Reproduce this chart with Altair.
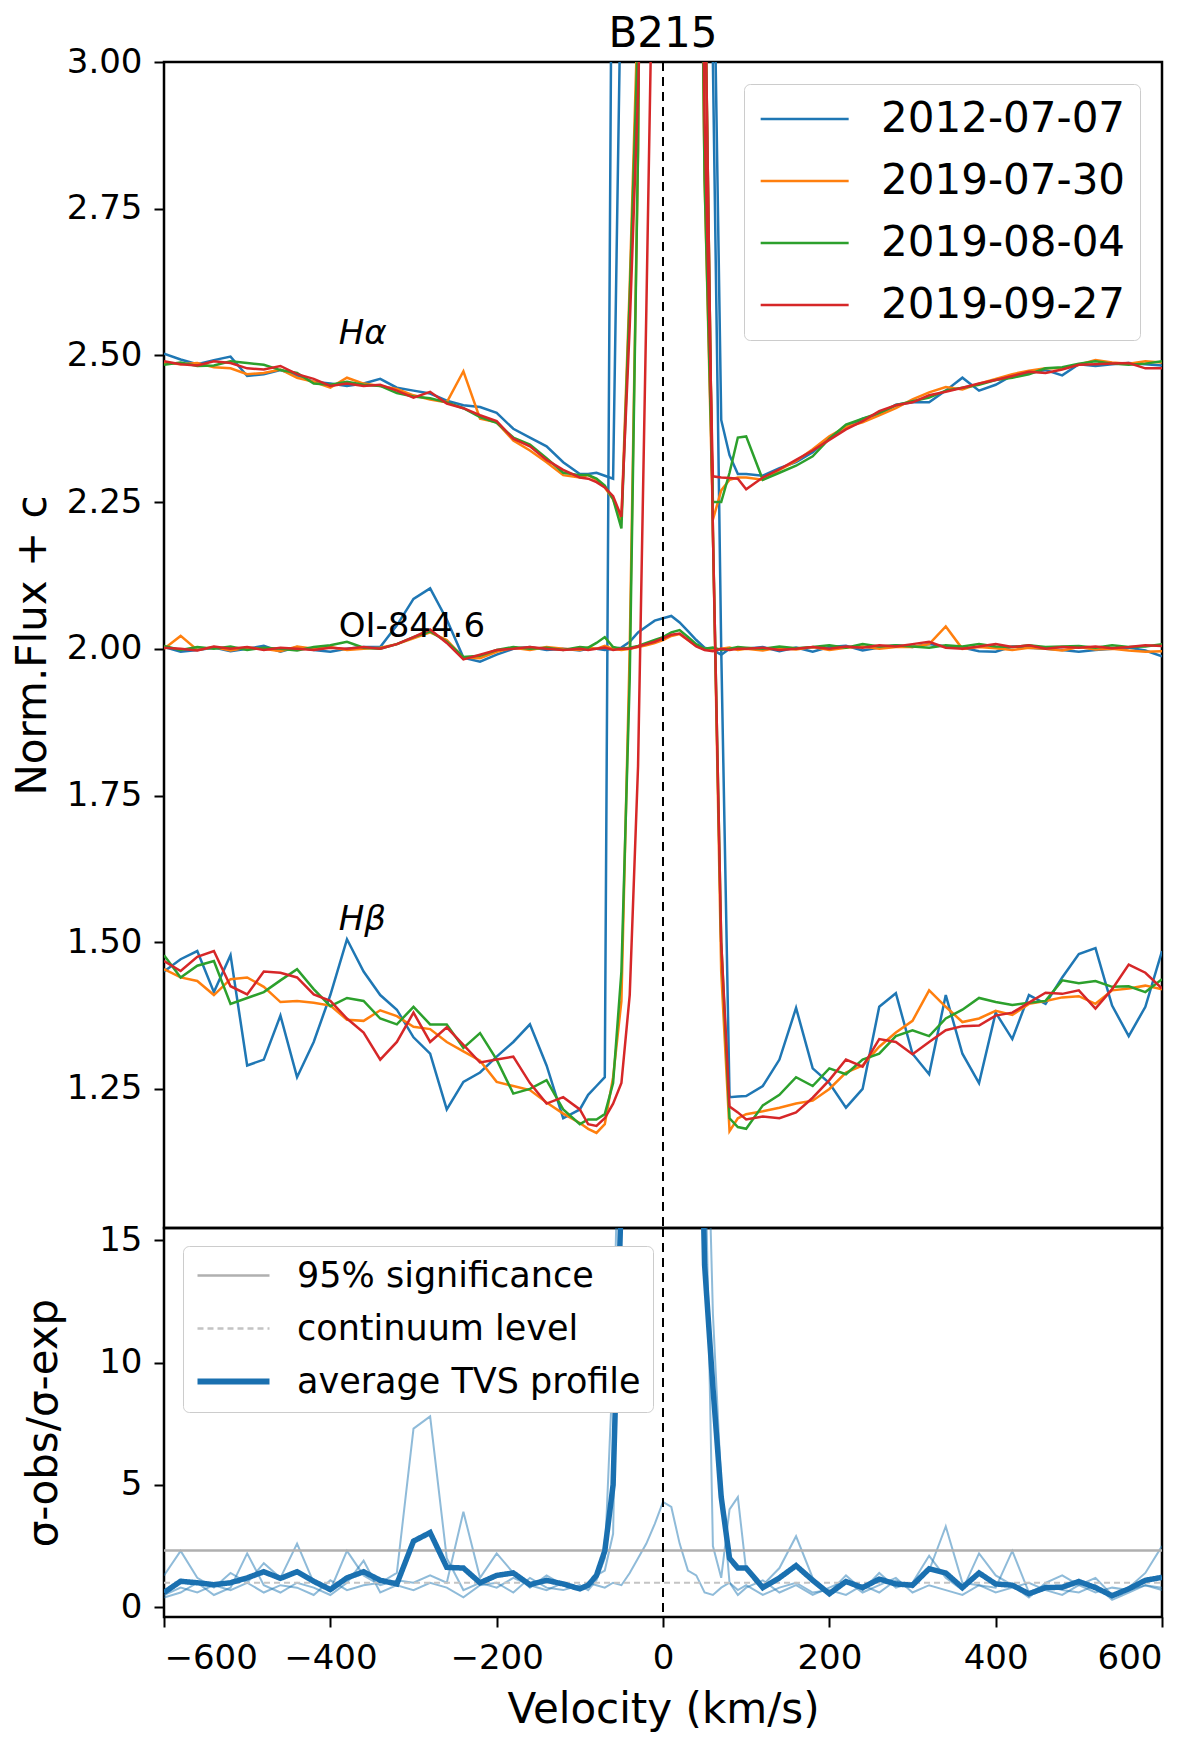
import altair as alt
import pandas as pd

# ---------------- data ----------------
vel = [-600, -580, -560, -540, -520, -500, -480, -460, -440, -420, -400, -380, -360,
       -340, -320, -300, -280, -260, -240, -220, -200, -180, -160, -140, -120, -100,
       -90, -80, -70, -60, -50, -40, -30, -20, -10, 0, 10, 20, 30, 40, 50, 60, 70, 80, 90,
       100, 120, 140, 160, 180, 200, 220, 240, 260, 280, 300, 320, 340, 360, 380,
       400, 420, 440, 460, 480, 500, 520, 540, 560, 580, 600]

dates = ["2012-07-07", "2019-07-30", "2019-08-04", "2019-09-27"]
date_colors = ["#1f77b4", "#ff7f0e", "#2ca02c", "#d62728"]

# H-alpha (offset +1.5)
ha_2012 = [2.503, 2.493, 2.485, 2.492, 2.498, 2.465, 2.468, 2.475, 2.466, 2.455, 2.452, 2.448, 2.452,
           2.460, 2.445, 2.440, 2.435, 2.423, 2.415, 2.412, 2.402, 2.375, 2.360, 2.345, 2.318, 2.298,
           2.298, 2.300, 2.295, 2.290, 3.2, 4.5, 4.5, 4.5, 4.5, 4.5, 4.5, 4.5, 4.5, 4.5, 3.8, 3.3, 2.39, 2.33, 2.298,
           2.298, 2.295, 2.308, 2.318, 2.335, 2.360, 2.378, 2.392, 2.400, 2.416, 2.420, 2.420, 2.440,
           2.462, 2.440, 2.450, 2.466, 2.470, 2.475, 2.466, 2.485, 2.482, 2.485, 2.487, 2.485, 2.483]
ha_2019a = [2.488, 2.485, 2.487, 2.480, 2.478, 2.468, 2.470, 2.476, 2.462, 2.455, 2.445, 2.462, 2.452,
            2.448, 2.443, 2.432, 2.425, 2.420, 2.473, 2.392, 2.386, 2.355, 2.338, 2.318, 2.296, 2.292,
            2.296, 2.288, 2.275, 2.255, 2.220, 2.62, 3.1, 4.5, 4.5, 4.5, 4.5, 4.5, 4.5, 4.0, 2.8, 2.22, 2.27, 2.288, 2.292,
            2.292, 2.288, 2.305, 2.320, 2.340, 2.362, 2.378, 2.386, 2.398, 2.410, 2.425, 2.437, 2.446,
            2.442, 2.452, 2.460, 2.468, 2.474, 2.478, 2.478, 2.484, 2.492, 2.488, 2.486, 2.490, 2.488]
ha_2019b = [2.484, 2.488, 2.482, 2.483, 2.490, 2.487, 2.484, 2.475, 2.470, 2.452, 2.450, 2.455, 2.450,
            2.448, 2.436, 2.430, 2.427, 2.420, 2.410, 2.395, 2.385, 2.360, 2.348, 2.325, 2.300, 2.296,
            2.296, 2.290, 2.278, 2.255, 2.205, 2.6, 3.05, 4.5, 4.5, 4.5, 4.5, 4.5, 4.5, 4.0, 2.8, 2.25, 2.25, 2.30, 2.36,
            2.362, 2.288, 2.300, 2.312, 2.328, 2.358, 2.382, 2.392, 2.402, 2.415, 2.422, 2.428, 2.440,
            2.445, 2.450, 2.458, 2.462, 2.468, 2.478, 2.480, 2.486, 2.490, 2.486, 2.484, 2.486, 2.490]
ha_2019c = [2.490, 2.485, 2.483, 2.490, 2.487, 2.478, 2.476, 2.482, 2.468, 2.460, 2.448, 2.452, 2.448,
            2.450, 2.440, 2.428, 2.438, 2.418, 2.410, 2.398, 2.388, 2.358, 2.345, 2.322, 2.305, 2.292,
            2.290, 2.284, 2.275, 2.260, 2.225, 2.55, 2.95, 3.5, 4.5, 4.5, 4.5, 4.5, 4.5, 4.0, 2.9, 2.294, 2.292, 2.291, 2.290,
            2.272, 2.292, 2.306, 2.322, 2.338, 2.356, 2.374, 2.388, 2.405, 2.415, 2.420, 2.432, 2.438,
            2.445, 2.452, 2.458, 2.465, 2.472, 2.470, 2.476, 2.484, 2.485, 2.486, 2.487, 2.478, 2.478]

# OI 844.6 (offset +1.0)
oi_2012 = [2.003, 1.995, 1.998, 2.002, 1.996, 2.000, 2.005, 1.995, 2.003, 1.998, 1.995, 2.000, 2.003,
           2.003, 2.040, 2.085, 2.103, 2.050, 1.985, 1.978, 1.990, 2.000, 2.003, 1.998, 2.000, 1.997,
           2.000, 2.000, 1.998, 2.000, 2.002, 2.012, 2.028, 2.038, 2.048, 2.052, 2.056, 2.045, 2.030, 2.015,
           2.002, 1.998, 1.990, 2.000, 2.000,
           2.000, 2.003, 1.996, 2.002, 1.995, 2.003, 2.005, 1.997, 2.002, 2.006, 2.003, 2.008, 2.004,
           2.002, 1.996, 1.995, 2.004, 2.002, 2.000, 1.998, 1.995, 1.998, 2.000, 2.002, 1.997, 1.987]
oi_2019a = [2.000, 2.022, 1.998, 2.003, 1.997, 2.002, 2.000, 1.996, 2.004, 2.000, 2.003, 1.998, 2.000,
            2.002, 2.008, 2.018, 2.028, 2.015, 1.985, 1.984, 1.995, 2.002, 1.998, 2.003, 2.000, 1.998,
            2.002, 2.000, 2.005, 2.000, 1.998, 2.000, 2.003, 2.006, 2.010, 2.015, 2.022, 2.025, 2.015, 2.005,
            2.000, 1.998, 2.000, 2.002, 1.998,
            2.000, 1.997, 2.002, 1.999, 2.003, 1.998, 2.002, 2.004, 2.000, 2.003, 2.003, 2.008, 2.038,
            2.000, 2.003, 2.001, 1.998, 2.002, 2.000, 1.997, 2.003, 1.999, 2.000, 1.997, 1.995, 1.996]
oi_2019b = [2.005, 1.998, 2.003, 2.000, 2.004, 1.998, 2.002, 2.000, 1.997, 2.003, 2.006, 2.012, 2.002,
            2.000, 2.008, 2.020, 2.030, 2.012, 1.986, 1.988, 1.998, 2.003, 2.000, 2.002, 1.998, 2.003,
            2.002, 2.010, 2.020, 2.003, 2.000, 2.002, 2.005, 2.010, 2.015, 2.020, 2.028, 2.032, 2.020, 2.008,
            2.000, 2.002, 1.998, 2.000, 2.003,
            2.002, 2.000, 2.004, 2.001, 2.003, 2.006, 2.002, 2.008, 2.004, 2.006, 2.004, 2.002, 2.006,
            2.004, 2.008, 2.004, 2.003, 2.006, 2.003, 2.004, 2.005, 2.002, 2.006, 2.003, 2.004, 2.008]
oi_2019c = [2.002, 2.000, 1.997, 2.004, 2.000, 2.003, 1.998, 2.002, 2.000, 1.998, 2.002, 2.000, 2.003,
            2.000, 2.008, 2.020, 2.033, 2.010, 1.982, 1.990, 1.998, 2.000, 2.003, 2.000, 1.998, 2.000,
            1.998, 2.000, 2.002, 1.998, 2.000, 2.000, 2.004, 2.008, 2.012, 2.018, 2.024, 2.026, 2.015, 2.004,
            1.998, 1.996, 2.000, 1.998, 2.000,
            2.000, 2.002, 1.998, 2.000, 2.003, 2.000, 2.004, 2.002, 2.006, 2.004, 2.008, 2.012, 2.002,
            2.000, 2.004, 2.008, 2.003, 2.006, 2.000, 2.003, 2.002, 2.004, 2.001, 2.003, 2.006, 2.005]

# H-beta (offset +0.5)
hb_2012 = [1.450, 1.471, 1.485, 1.415, 1.478, 1.290, 1.300, 1.375, 1.270, 1.330, 1.410, 1.505, 1.450,
           1.410, 1.385, 1.338, 1.310, 1.215, 1.262, 1.278, 1.305, 1.330, 1.360, 1.290, 1.200, 1.215,
           1.240, 1.255, 1.270, 3.6, 4.5, 4.5, 4.5, 4.5, 4.5, 4.5, 4.5, 4.5, 4.5, 4.5, 4.5, 3.0, 2.0, 1.236, 1.237,
           1.238, 1.255, 1.300, 1.388, 1.285, 1.260, 1.218, 1.250, 1.390, 1.413, 1.310, 1.275, 1.410,
           1.310, 1.260, 1.380, 1.335, 1.410, 1.395, 1.440, 1.480, 1.490, 1.392, 1.340, 1.390, 1.485]
hb_2019a = [1.454, 1.440, 1.434, 1.410, 1.437, 1.440, 1.424, 1.398, 1.400, 1.397, 1.392, 1.368, 1.366,
            1.384, 1.374, 1.356, 1.352, 1.330, 1.314, 1.298, 1.262, 1.255, 1.248, 1.227, 1.208, 1.192,
            1.182, 1.175, 1.190, 1.270, 1.400, 2.000, 2.850, 4.5, 4.5, 4.5, 4.5, 4.5, 4.5, 4.5, 3.2, 2.2, 1.45, 1.178, 1.200,
            1.207, 1.212, 1.218, 1.225, 1.230, 1.250, 1.278, 1.290, 1.322, 1.346, 1.366, 1.418, 1.390,
            1.364, 1.370, 1.383, 1.376, 1.395, 1.400, 1.406, 1.408, 1.395, 1.418, 1.421, 1.426, 1.420]
hb_2019b = [1.478, 1.440, 1.460, 1.468, 1.395, 1.405, 1.415, 1.435, 1.454, 1.420, 1.391, 1.405, 1.400,
            1.370, 1.360, 1.390, 1.360, 1.360, 1.320, 1.345, 1.300, 1.242, 1.250, 1.265, 1.215, 1.190,
            1.198, 1.198, 1.207, 1.260, 1.450, 1.950, 2.850, 4.5, 4.5, 4.5, 4.5, 4.5, 4.5, 4.5, 3.2, 2.2, 1.5, 1.200, 1.185,
            1.182, 1.222, 1.240, 1.270, 1.255, 1.285, 1.275, 1.300, 1.310, 1.340, 1.350, 1.340, 1.370,
            1.385, 1.405, 1.398, 1.393, 1.397, 1.400, 1.435, 1.430, 1.434, 1.424, 1.425, 1.415, 1.437]
hb_2019c = [1.468, 1.451, 1.475, 1.485, 1.425, 1.411, 1.450, 1.448, 1.440, 1.411, 1.400, 1.370, 1.346,
            1.300, 1.330, 1.380, 1.330, 1.355, 1.325, 1.295, 1.300, 1.305, 1.260, 1.225, 1.236, 1.215,
            1.190, 1.187, 1.200, 1.225, 1.260, 1.410, 1.800, 2.580, 3.400, 4.5, 4.5, 4.5, 4.5, 4.5, 3.2, 2.2, 1.5, 1.220, 1.210,
            1.198, 1.203, 1.200, 1.210, 1.235, 1.265, 1.300, 1.288, 1.335, 1.330, 1.309, 1.330, 1.350,
            1.357, 1.358, 1.375, 1.380, 1.397, 1.414, 1.412, 1.418, 1.387, 1.420, 1.462, 1.448, 1.421]

# TVS profiles (sigma-obs / sigma-exp)
tvs_oi = [0.5, 0.8, 0.6, 0.9, 0.7, 1.0, 0.6, 0.9, 0.8, 0.5, 1.1, 0.7, 0.9,
          1.0, 1.4, 7.3, 7.8, 2.0, 0.7, 1.0, 0.8, 1.2, 0.9, 0.7, 1.0, 0.8,
          1.0, 0.9, 0.8, 1.0, 0.9, 1.4, 2.0, 2.6, 3.4, 4.3, 4.1, 2.6, 1.5, 1.3, 0.6, 0.5, 0.8, 1.0, 0.7,
          0.9, 0.5, 0.8, 1.0, 0.6, 0.7, 0.5, 0.9, 0.6, 1.1, 0.8, 1.5, 3.3,
          1.0, 0.9, 0.6, 0.8, 1.0, 0.7, 0.5, 0.9, 0.6, 0.8, 0.7, 0.9, 0.8]
tvs_ha = [1.3, 2.3, 1.2, 0.8, 1.4, 1.0, 1.8, 1.2, 2.6, 1.0, 0.7, 2.3, 1.3,
          0.9, 1.1, 1.0, 1.3, 1.0, 3.9, 1.2, 2.2, 1.4, 0.8, 1.3, 0.9, 0.8,
          1.0, 1.3, 1.5, 3.0, 20, 30, 30, 30, 30, 30, 30, 30, 30, 30, 20, 2.5, 1.2, 4.0, 4.5,
          1.5, 0.9, 1.6, 2.9, 1.2, 0.6, 1.3, 0.7, 1.4, 0.8, 1.0, 2.1, 1.2,
          0.7, 2.2, 1.3, 0.9, 0.4, 1.0, 1.3, 0.9, 1.2, 0.5, 0.8, 1.4, 2.5]
tvs_hb = [0.4, 0.6, 1.0, 0.5, 0.8, 2.2, 0.9, 0.6, 1.0, 0.8, 0.5, 1.0, 1.9,
          0.6, 0.9, 0.7, 1.0, 0.8, 0.4, 0.9, 1.0, 0.6, 1.2, 0.8, 0.7, 0.9,
          0.7, 1.1, 2.0, 10, 25, 30, 30, 30, 30, 30, 30, 30, 30, 30, 25, 12, 5.0, 1.0, 0.5,
          0.8, 1.1, 0.6, 0.9, 0.5, 0.8, 1.1, 0.6, 0.9, 1.2, 0.6, 0.9, 0.7,
          0.5, 0.9, 0.8, 2.3, 0.6, 0.9, 0.7, 0.6, 0.9, 0.3, 0.6, 0.9, 0.7]
tvs_avg = [0.6, 1.06, 1.0, 0.92, 1.0, 1.2, 1.45, 1.18, 1.45, 1.06, 0.72, 1.2, 1.45,
           1.1, 0.95, 2.7, 3.05, 1.63, 1.6, 1.0, 1.3, 1.4, 0.92, 1.1, 0.95, 0.75,
           0.9, 1.3, 2.3, 5.0, 17, 30, 30, 30, 30, 30, 30, 30, 30, 30, 14, 9, 4.5, 2.0, 1.6,
           1.6, 0.8, 1.2, 1.7, 1.1, 0.55, 1.05, 0.8, 1.15, 0.95, 0.9, 1.57, 1.4,
           0.8, 1.4, 0.95, 0.9, 0.55, 0.8, 0.82, 1.05, 0.8, 0.47, 0.75, 1.1, 1.22]

level_vel = [-600, 600]
sig95 = [2.32, 2.32]
continuum = [1.0, 1.0]
kinds = ["95% significance", "continuum level", "average TVS profile"]
kind_colors = ["#b0b0b0", "#c4c4c4", "#1a70b0"]
kind_dashes = [[1, 0], [6, 4], [1, 0]]
kind_widths = [2.5, 2.0, 5.5]

line_labels = ["Hα", "OI-844.6", "Hβ"]
label_vel = [-390, -390, -390]
label_y = [2.52, 2.02, 1.52]

# ---------------- tables ----------------
profiles = {
    "2012-07-07": [("Hα", ha_2012), ("OI", oi_2012), ("Hβ", hb_2012)],
    "2019-07-30": [("Hα", ha_2019a), ("OI", oi_2019a), ("Hβ", hb_2019a)],
    "2019-08-04": [("Hα", ha_2019b), ("OI", oi_2019b), ("Hβ", hb_2019b)],
    "2019-09-27": [("Hα", ha_2019c), ("OI", oi_2019c), ("Hβ", hb_2019c)],
}
rows = []
for d in dates:
    for name, arr in profiles[d]:
        assert len(arr) == len(vel), (d, name, len(arr))
        for v, f in zip(vel, arr):
            rows.append({"v": v, "flux": f, "date": d, "line": name})
df_top = pd.DataFrame(rows)

rows = []
for name, arr in [("Hα", tvs_ha), ("OI", tvs_oi), ("Hβ", tvs_hb)]:
    assert len(arr) == len(vel), (name, len(arr))
    for v, f in zip(vel, arr):
        rows.append({"v": v, "tvs": f, "line": name})
df_light = pd.DataFrame(rows)

rows = []
for v, f in zip(level_vel, sig95):
    rows.append({"v": v, "tvs": f, "kind": kinds[0], "w": kind_widths[0]})
for v, f in zip(level_vel, continuum):
    rows.append({"v": v, "tvs": f, "kind": kinds[1], "w": kind_widths[1]})
assert len(tvs_avg) == len(vel)
for v, f in zip(vel, tvs_avg):
    rows.append({"v": v, "tvs": f, "kind": kinds[2], "w": kind_widths[2]})
df_bottom = pd.DataFrame(rows)

df_zero = pd.DataFrame({"v": [0]})
df_lab = pd.DataFrame({"v": label_vel, "y": label_y, "text": line_labels})

FONT = "DejaVu Sans"
W = 998
H_TOP = 1166
H_BOT = 389

xscale = alt.Scale(domain=[-600, 600], nice=False)

# ---------------- top panel ----------------
top_lines = alt.Chart(df_top).mark_line(strokeWidth=2.5, clip=True).encode(
    x=alt.X("v:Q", scale=xscale, axis=None),
    y=alt.Y("flux:Q", scale=alt.Scale(domain=[1.013, 3.0], nice=False, zero=False),
            axis=alt.Axis(values=[1.25, 1.5, 1.75, 2.0, 2.25, 2.5, 2.75, 3.0], format=".2f",
                          title="Norm.Flux + c", labelPadding=12, titlePadding=12)),
    color=alt.Color("date:N", scale=alt.Scale(domain=dates, range=date_colors),
                    legend=alt.Legend(orient="none", legendX=580, legendY=22, title=None,
                                      symbolType="M-1,0H3.8", symbolSize=1344,
                                      symbolStrokeWidth=2.5, labelFontSize=42, labelFont=FONT,
                                      labelColor="black", labelOffset=81, rowPadding=20,
                                      padding=14, strokeColor="#cccccc", fillColor="white",
                                      cornerRadius=6, labelLimit=500)),
    detail="line:N",
)

zero_top = alt.Chart(df_zero).mark_rule(color="black", strokeWidth=2, strokeDash=[9, 6]).encode(
    x=alt.X("v:Q", scale=xscale))

lab_it = alt.Chart(df_lab[df_lab["text"] != "OI-844.6"]).mark_text(
    align="left", baseline="alphabetic", fontSize=34, font=FONT, fontStyle="italic", color="black"
).encode(x=alt.X("v:Q", scale=xscale), y="y:Q", text="text:N")
lab_up = alt.Chart(df_lab[df_lab["text"] == "OI-844.6"]).mark_text(
    align="left", baseline="alphabetic", fontSize=34, font=FONT, color="black"
).encode(x=alt.X("v:Q", scale=xscale), y="y:Q", text="text:N")

top = alt.layer(top_lines, zero_top, lab_it, lab_up).properties(
    width=W, height=H_TOP,
    title=alt.TitleParams("B215", fontSize=42, fontWeight="normal", font=FONT, offset=-11,
                          anchor="middle", color="black", frame="group"))

# ---------------- bottom panel ----------------
light = alt.Chart(df_light).mark_line(strokeWidth=2, clip=True, opacity=0.5, color="#1f77b4").encode(
    x=alt.X("v:Q", scale=xscale),
    y=alt.Y("tvs:Q"),
    detail="line:N",
)

leg_b = alt.Legend(orient="none", legendX=19, legendY=18, title=None,
                   symbolType="M-1,0H3.8", symbolSize=900, labelFontSize=35, labelFont=FONT,
                   labelColor="black", labelOffset=67, rowPadding=17, padding=12,
                   strokeColor="#cccccc", fillColor="white", cornerRadius=6, labelLimit=500,
                   symbolStrokeWidth={"expr": "datum.value === 'average TVS profile' ? 6 : 2.5"})

main_b = alt.Chart(df_bottom).mark_line(clip=True).encode(
    x=alt.X("v:Q", scale=xscale,
            axis=alt.Axis(values=[-600, -400, -200, 0, 200, 400, 600], title="Velocity (km/s)",
                          labelPadding=14, titlePadding=14)),
    y=alt.Y("tvs:Q", scale=alt.Scale(domain=[-0.4, 15.5], nice=False, zero=False),
            axis=alt.Axis(values=[0, 5, 10, 15], format="d", title="σ-obs/σ-exp",
                          labelPadding=12, titlePadding=33)),
    color=alt.Color("kind:N", sort=kinds,
                    scale=alt.Scale(domain=kinds, range=kind_colors),
                    legend=leg_b),
    strokeDash=alt.StrokeDash("kind:N", sort=kinds,
                              scale=alt.Scale(domain=kinds, range=kind_dashes),
                              legend=leg_b),
    strokeWidth=alt.StrokeWidth("w:Q", scale=None, legend=None),
)

zero_bot = alt.Chart(df_zero).mark_rule(color="black", strokeWidth=2, strokeDash=[9, 6]).encode(
    x=alt.X("v:Q", scale=xscale))

bottom = alt.layer(light, main_b, zero_bot).properties(width=W, height=H_BOT)

chart = alt.vconcat(top, bottom, spacing=0, bounds="flush").resolve_scale(
    color="independent", strokeDash="independent",
    x="independent", y="independent"
).resolve_legend(
    color="independent", strokeDash="independent"
).properties(
    padding={"left": 2, "top": 3, "right": 5, "bottom": 2}
).configure(font=FONT).configure_view(
    stroke="black", strokeWidth=2.5
).configure_axis(
    labelFont=FONT, labelFontSize=34, labelColor="black",
    titleFont=FONT, titleFontSize=42, titleFontWeight="normal", titleColor="black",
    tickColor="black", tickWidth=2, tickSize=10, domain=False, grid=False
)

chart.save("out.html", embed_options={"renderer": "svg", "actions": False})
